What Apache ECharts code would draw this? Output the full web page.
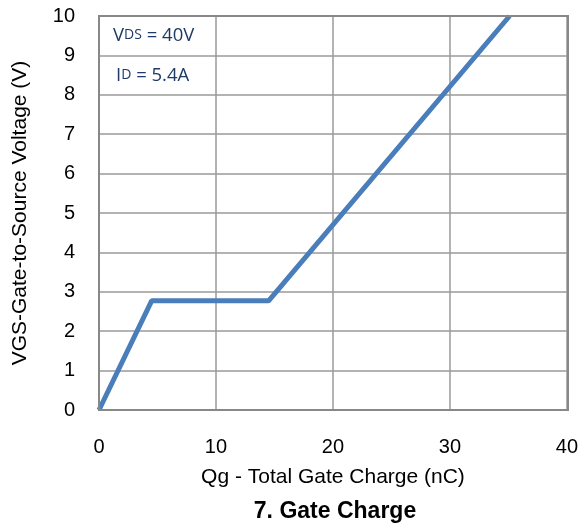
<!DOCTYPE html>
<html><head><meta charset="utf-8">
<script src="https://cdn.jsdelivr.net/npm/echarts@6/dist/echarts.min.js"></script>
<style>html,body{margin:0;padding:0;background:#fff}#c{width:581px;height:529px}</style>
</head><body><div id="c"></div>
<script>
var qg = [0, 4.5, 14.5, 35.1];
var vgs = [0, 2.77, 2.77, 10];
var xTicks = [0, 10, 20, 30, 40];
var yTicks = [0, 1, 2, 3, 4, 5, 6, 7, 8, 9, 10];

var chart = echarts.init(document.getElementById('c'));
var font = 'Liberation Sans, Arial, sans-serif';
chart.setOption({
  animation: false,
  grid: {left: 99, right: 13, top: 16, bottom: 119},
  xAxis: {
    type: 'value', min: 0, max: 40, interval: 10,
    name: 'Qg - Total Gate Charge (nC)', nameLocation: 'middle', nameGap: 57,
    nameTextStyle: {fontFamily: font, fontSize: 21, color: '#000'},
    axisLine: {show: false}, axisTick: {show: false},
    axisLabel: {fontFamily: font, fontSize: 20, color: '#000', margin: 27,
      formatter: function(v){ return xTicks.indexOf(v) >= 0 ? String(v) : ''; }},
    splitLine: {show: true, lineStyle: {color: '#9a9a9a', width: 1.5}}
  },
  yAxis: {
    type: 'value', min: 0, max: 10, interval: 1,
    name: 'VGS-Gate-to-Source Voltage (V)', nameLocation: 'middle', nameGap: 68,
    nameTextStyle: {fontFamily: font, fontSize: 21, color: '#000'},
    axisLine: {show: false}, axisTick: {show: false},
    axisLabel: {fontFamily: font, fontSize: 20, color: '#000', margin: 24,
      formatter: function(v){ return yTicks.indexOf(v) >= 0 ? String(v) : ''; }},
    splitLine: {show: true, lineStyle: {color: '#9a9a9a', width: 1.5}}
  },
  graphic: [
    {type: 'rect', shape: {x: 99, y: 16, width: 469, height: 394},
     style: {fill: 'none', stroke: '#888', lineWidth: 2}, z: 5, silent: true},
    {type: 'text', x: 335, y: 512, z: 10,
     style: {text: '7. Gate Charge', align: 'center', verticalAlign: 'middle',
       fontFamily: font, fontSize: 23, fontWeight: 'bold', fill: '#000'}},
    {type: 'text', left: 113, top: 26, z: 10,
     style: {text: '{b|V}{s|DS}{b| = 40V}', rich: {
       b: {fontFamily: 'Open Sans, sans-serif', fontSize: 18.5, fill: '#1f3a64'},
       s: {fontFamily: 'Open Sans, sans-serif', fontSize: 14, fill: '#1f3a64'}}}},
    {type: 'text', left: 116, top: 66, z: 10,
     style: {text: '{b|I}{s|D}{b| = 5.4A}', rich: {
       b: {fontFamily: 'Open Sans, sans-serif', fontSize: 18.5, fill: '#1f3a64'},
       s: {fontFamily: 'Open Sans, sans-serif', fontSize: 14, fill: '#1f3a64'}}}}
  ],
  series: [{
    type: 'line', data: qg.map(function(x, i){ return [x, vgs[i]]; }),
    symbol: 'none', lineStyle: {color: '#4a7ebb', width: 5}, z: 3
  }]
});
</script></body></html>
